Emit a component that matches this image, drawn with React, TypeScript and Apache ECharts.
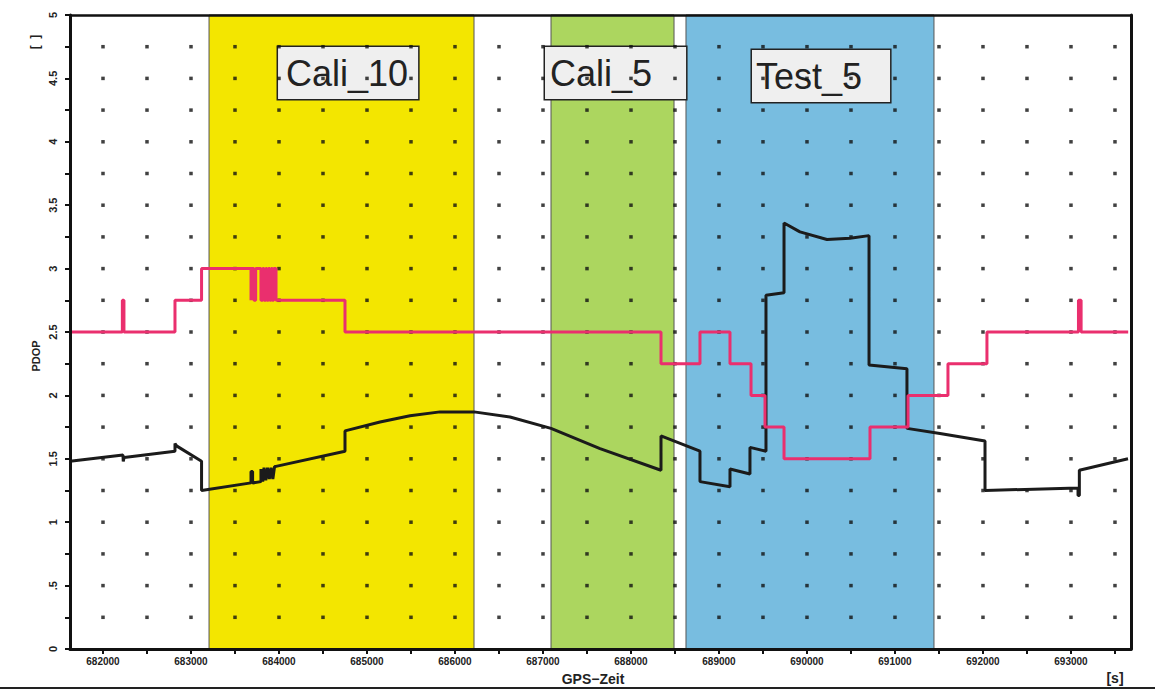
import React, { useEffect, useRef } from "react";
import * as echarts from "echarts";

// ---- axis extents and ticks (GPS time in s, PDOP) ----
const X_MIN = 681625;
const X_MAX = 693682;
const xLabelValues = [682000, 683000, 684000, 685000, 686000, 687000, 688000, 689000, 690000, 691000, 692000, 693000];
const xTickValues = [
  682000, 682500, 683000, 683500, 684000, 684500, 685000, 685500, 686000, 686500, 687000, 687500,
  688000, 688500, 689000, 689500, 690000, 690500, 691000, 691500, 692000, 692500, 693000, 693500,
];
const yLabelValues = [0, 0.5, 1, 1.5, 2, 2.5, 3, 3.5, 4, 4.5, 5];
const yTickValues = [
  0, 0.25, 0.5, 0.75, 1, 1.25, 1.5, 1.75, 2, 2.25, 2.5, 2.75, 3, 3.25, 3.5, 3.75, 4, 4.25, 4.5, 4.75, 5,
];

// ---- shaded intervals ----
const zoneNames = ["Cali_10", "Cali_5", "Test_5"];
const zoneStarts = [683205, 687091, 688625];
const zoneEnds = [686216, 688489, 691443];

// ---- series: pink (step) ----
const pinkSeries: [number, number][] = [
  [681625, 2.5], [682220, 2.5], [682220, 2.75], [682238, 2.75], [682238, 2.5],
  [682818, 2.5], [682818, 2.75],
  [683120, 2.75], [683120, 3.0],
  [683682, 3.0], [683682, 2.75], [683690, 2.75], [683690, 3.0],
  [683715, 3.0], [683715, 2.75], [683735, 2.75], [683735, 3.0],
  [683795, 3.0], [683795, 2.75], [683815, 2.75], [683815, 3.0], [683830, 3.0], [683830, 2.75],
  [683850, 2.75], [683850, 3.0], [683862, 3.0], [683862, 2.75], [683880, 2.75], [683880, 3.0],
  [683895, 3.0], [683895, 2.75], [683912, 2.75], [683912, 3.0], [683925, 3.0], [683925, 2.75],
  [683940, 2.75], [683940, 3.0], [683966, 3.0], [683966, 2.75],
  [684750, 2.75], [684750, 2.5],
  [688341, 2.5], [688341, 2.25],
  [688784, 2.25], [688784, 2.5],
  [689125, 2.5], [689125, 2.25],
  [689364, 2.25], [689364, 2.0],
  [689523, 2.0], [689523, 1.75],
  [689739, 1.75], [689739, 1.5],
  [690716, 1.5], [690716, 1.75],
  [691148, 1.75], [691148, 2.0],
  [691602, 2.0], [691602, 2.25],
  [692045, 2.25], [692045, 2.5],
  [693085, 2.5], [693085, 2.75], [693115, 2.75], [693115, 2.5],
  [693650, 2.5],
];

// ---- series: black ----
const blackSeries: [number, number][] = [
  [681625, 1.48], [682227, 1.53], [682230, 1.48], [682240, 1.51],
  [682818, 1.56], [682818, 1.62], [682840, 1.6], [683120, 1.48],
  [683120, 1.25], [683682, 1.31], [683682, 1.4], [683700, 1.4], [683700, 1.31],
  [683795, 1.32], [683795, 1.42], [683815, 1.32], [683830, 1.43], [683850, 1.33],
  [683870, 1.43], [683890, 1.34], [683910, 1.43], [683930, 1.34], [683950, 1.44], [683966, 1.44],
  [684750, 1.56], [684750, 1.72],
  [685148, 1.79], [685489, 1.84], [685830, 1.87], [686216, 1.87], [686625, 1.83],
  [687091, 1.74], [687648, 1.58], [688341, 1.41],
  [688341, 1.68], [688784, 1.56], [688784, 1.32],
  [689125, 1.28], [689125, 1.42], [689352, 1.38], [689352, 1.59],
  [689534, 1.56], [689534, 2.79], [689739, 2.81], [689739, 3.36],
  [689920, 3.29], [690227, 3.23], [690489, 3.24], [690705, 3.26],
  [690705, 2.24], [691136, 2.21], [691136, 1.74],
  [691511, 1.7], [692023, 1.64], [692023, 1.25],
  [693080, 1.27], [693080, 1.21], [693095, 1.21], [693095, 1.41],
  [693648, 1.5],
];

export default function App() {
  const ref = useRef<HTMLDivElement>(null);

  useEffect(() => {
    if (!ref.current) return;
    const chart = echarts.init(ref.current, undefined, { renderer: "svg" });

    const zoneColors = ["#f3e600", "#acd65f", "#78bde0"];
    const labelPos = [[69, 32], [-6, 32], [66, 35]];
    const labelPad = [[6, 10, 6, 8], [6, 34, 6, 5], [6, 28, 6, 4]];

    const dots: [number, number][] = [];
    for (const x of xTickValues) {
      for (const y of yTickValues) {
        if (y > 0 && y < 5) dots.push([x, y]);
      }
    }

    const axisFont = { fontFamily: "Liberation Sans", fontWeight: "bold" as const, fontSize: 10, color: "#222" };

    chart.setOption({
      animation: false,
      backgroundColor: "#ffffff",
      grid: { left: 70, right: 24, top: 15, bottom: 42, containLabel: false },
      xAxis: [
        {
          type: "value",
          min: X_MIN,
          max: X_MAX,
          position: "bottom",
          z: 10,
          axisLine: { show: true, onZero: false, lineStyle: { color: "#111", width: 3 } },
          axisTick: { show: true, customValues: xTickValues, length: 5, lineStyle: { color: "#111", width: 2 } },
          axisLabel: { customValues: xLabelValues, margin: 7, formatter: (v: number) => String(v), ...axisFont },
          splitLine: { show: false },
        },
        {
          type: "value",
          min: X_MIN,
          max: X_MAX,
          position: "top",
          z: 10,
          axisLine: { show: true, onZero: false, lineStyle: { color: "#111", width: 2.5 } },
          axisTick: { show: false },
          axisLabel: { show: false },
          splitLine: { show: false },
        },
      ],
      yAxis: [
        {
          type: "value",
          min: 0,
          max: 5,
          position: "left",
          z: 10,
          axisLine: { show: true, onZero: false, lineStyle: { color: "#111", width: 3 } },
          axisTick: { show: true, customValues: yTickValues, length: 5, lineStyle: { color: "#111", width: 2 } },
          axisLabel: {
            customValues: yLabelValues,
            rotate: 90,
            margin: 12,
            formatter: (v: number) => (v === 0 ? "0" : v < 1 ? ".5" : String(v)),
            ...axisFont,
            fontSize: 11,
          },
          splitLine: { show: false },
        },
        {
          type: "value",
          min: 0,
          max: 5,
          position: "right",
          z: 10,
          axisLine: { show: true, onZero: false, lineStyle: { color: "#111", width: 3 } },
          axisTick: { show: false },
          axisLabel: { show: false },
          splitLine: { show: false },
        },
      ],
      series: [
        {
          type: "line",
          data: [],
          z: 1,
          silent: true,
          markArea: {
            silent: true,
            label: { show: false },
            itemStyle: { borderColor: "#555", borderWidth: 1 },
            data: zoneNames.map((n, i) => [
              { name: n, xAxis: zoneStarts[i], itemStyle: { color: zoneColors[i], borderColor: "#555", borderWidth: 1 } },
              { xAxis: zoneEnds[i] },
            ]),
          },
        },
        {
          type: "scatter",
          data: dots,
          z: 2,
          silent: true,
          symbol: "rect",
          symbolSize: 3.5,
          itemStyle: { color: "#111" },
        },
        {
          type: "line",
          data: blackSeries,
          z: 3,
          showSymbol: false,
          silent: true,
          lineStyle: { color: "#1b1b1b", width: 3 },
        },
        {
          type: "line",
          data: pinkSeries,
          z: 4,
          showSymbol: false,
          silent: true,
          lineStyle: { color: "#ea2f6e", width: 3 },
        },
        {
          type: "line",
          data: [],
          z: 6,
          silent: true,
          markArea: {
            silent: true,
            itemStyle: { color: "rgba(0,0,0,0)", borderWidth: 0 },
            data: zoneNames.map((n, i) => [
              {
                name: n,
                xAxis: zoneStarts[i],
                label: {
                  show: true,
                  position: labelPos[i],
                  formatter: n,
                  fontFamily: "Liberation Sans",
                  fontSize: 36,
                  lineHeight: 40,
                  color: "#222",
                  backgroundColor: "#efefef",
                  borderColor: "#222",
                  borderWidth: 1.5,
                  padding: labelPad[i],
                },
              },
              { xAxis: zoneEnds[i] },
            ]),
          },
        },
      ],
      graphic: [
        {
          type: "text",
          x: 36,
          y: 356,
          rotation: Math.PI / 2,
          style: { text: "PDOP", fontFamily: "Liberation Sans", fontWeight: "bold", fontSize: 11, fill: "#222", align: "center", verticalAlign: "middle" },
        },
        {
          type: "text",
          x: 35,
          y: 42,
          rotation: Math.PI / 2,
          style: { text: "[  ]", fontFamily: "Liberation Sans", fontWeight: "bold", fontSize: 12, fill: "#222", align: "center", verticalAlign: "middle" },
        },
        {
          type: "text",
          x: 593,
          y: 672,
          style: { text: "GPS−Zeit", fontFamily: "Liberation Sans", fontWeight: "bold", fontSize: 14, fill: "#222", align: "center", verticalAlign: "top" },
          z: 50,
        },
        {
          type: "text",
          x: 1115,
          y: 671,
          style: { text: "[s]", fontFamily: "Liberation Sans", fontWeight: "bold", fontSize: 14, fill: "#222", align: "center", verticalAlign: "top" },
          z: 50,
        },
        {
          type: "line",
          shape: { x1: 0, y1: 688, x2: 1155, y2: 688 },
          style: { stroke: "#222", lineWidth: 2 },
          z: 61,
        },
      ],
    });

    return () => chart.dispose();
  }, []);

  return (
    <div
      ref={ref}
      style={{ position: "absolute", left: 0, top: 0, width: 1155, height: 691, background: "#fff" }}
    />
  );
}
